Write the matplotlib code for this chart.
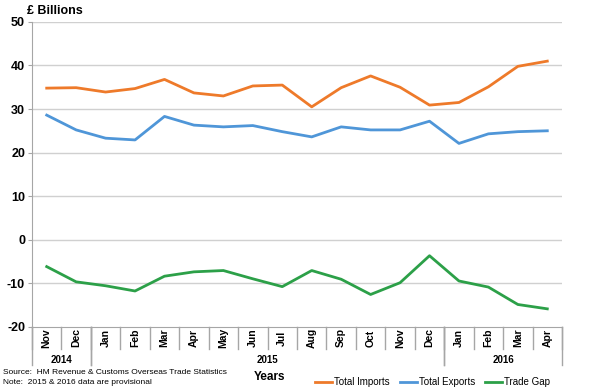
import matplotlib
matplotlib.use("Agg")
import matplotlib.pyplot as plt
import matplotlib.transforms as mtransforms

plt.rcParams['font.family'] = ['Liberation Sans', 'DejaVu Sans']

months = ["Nov", "Dec", "Jan", "Feb", "Mar", "Apr", "May", "Jun", "Jul",
          "Aug", "Sep", "Oct", "Nov", "Dec", "Jan", "Feb", "Mar", "Apr"]
years = ["2014", "2015", "2016"]
year_spans = [(0, 1), (2, 13), (14, 17)]

imports = [34.8, 34.9, 33.9, 34.7, 36.8, 33.7, 33.0, 35.3, 35.5,
           30.5, 34.9, 37.6, 35.0, 30.9, 31.5, 35.1, 39.8, 41.0]
exports = [28.6, 25.2, 23.3, 22.9, 28.3, 26.3, 25.9, 26.2, 24.8,
           23.6, 25.9, 25.2, 25.2, 27.2, 22.1, 24.3, 24.8, 25.0]
trade_gap = [-6.2, -9.7, -10.6, -11.8, -8.4, -7.4, -7.1, -9.0, -10.8,
             -7.1, -9.1, -12.6, -9.9, -3.7, -9.5, -10.9, -14.9, -15.9]

yticks = [-20, -10, 0, 10, 20, 30, 40, 50]

fig = plt.figure(figsize=(6.0, 3.92), dpi=100)
ax = fig.add_axes([0.0533, 0.1666, 0.8834, 0.7774])

x = list(range(len(months)))
ax.plot(x, imports, color='#EE7A2A', lw=2, label='Total Imports')
ax.plot(x, exports, color='#4F96D8', lw=2, label='Total Exports')
ax.plot(x, trade_gap, color='#2CA048', lw=2, label='Trade Gap')

ax.set_xlim(-0.5, len(months) - 0.5)
ax.set_ylim(-20, 50)
ax.set_yticks(yticks)
ax.set_yticklabels([str(v) for v in yticks], fontsize=9, fontweight='bold')
for v in yticks[1:]:
    ax.axhline(v, color='#D0D0D0', lw=1, zorder=0)

for s in ['top', 'right']:
    ax.spines[s].set_visible(False)
ax.spines['left'].set_color('#A6A6A6')
ax.spines['bottom'].set_color('#A6A6A6')
ax.tick_params(axis='y', length=3, color='#A6A6A6', pad=2)
ax.set_xticks([])

trans = mtransforms.blended_transform_factory(ax.transData, ax.transAxes)
# month separators
for i in range(len(months) + 1):
    ax.plot([i - 0.5, i - 0.5], [0, -0.073], transform=trans, color='#A6A6A6',
            lw=1, clip_on=False)
# year separators
for (a, b) in year_spans:
    for xx in (a - 0.5, b + 0.5):
        ax.plot([xx, xx], [0, -0.125], transform=trans, color='#A6A6A6',
                lw=1, clip_on=False)
for i, m in enumerate(months):
    ax.text(i, -0.037, m, transform=trans, rotation=90, ha='center', va='center',
            fontsize=7.5, fontweight='bold')
for (a, b), yr in zip(year_spans, years):
    ax.text((a + b) / 2, -0.11, yr, transform=trans, ha='center', va='center',
            fontsize=7, fontweight='bold')

fig.text(27 / 600, 1 - 11 / 392, '£ Billions', fontsize=9, fontweight='bold',
         ha='left', va='center')
fig.text(270 / 600, 1 - 377 / 392, 'Years', fontsize=8.5, fontweight='bold',
         ha='center', va='center')
fig.text(3 / 600, 1 - 372 / 392, 'Source:  HM Revenue & Customs Overseas Trade Statistics',
         fontsize=6, ha='left', va='center')
fig.text(3 / 600, 1 - 382 / 392, 'Note:  2015 & 2016 data are provisional',
         fontsize=6, ha='left', va='center')

fig.legend(loc='center', bbox_to_anchor=(432.5 / 600, 1 - 382 / 392), ncol=3, frameon=False,
           fontsize=7, handlelength=1.75, handletextpad=0.2, columnspacing=1.0,
           borderpad=0)

fig.savefig('out.png', dpi=100)
